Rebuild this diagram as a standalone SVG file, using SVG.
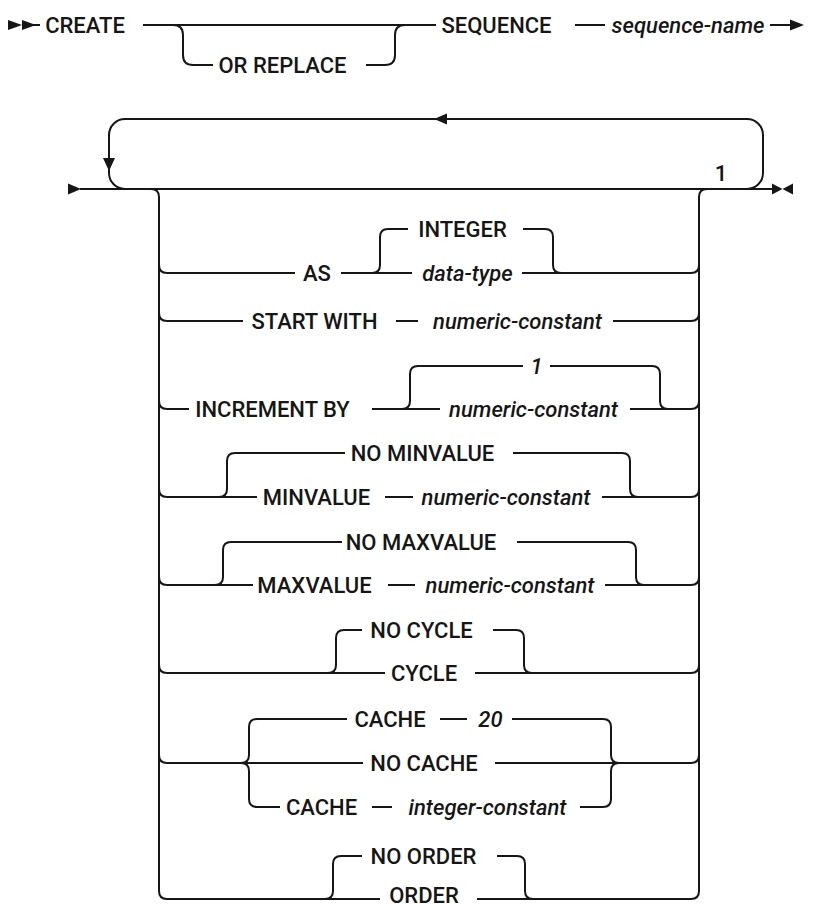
<svg xmlns="http://www.w3.org/2000/svg" width="814" height="904" viewBox="0 0 814 904">
<style>
.t{font-family:Roboto,"Liberation Sans",sans-serif;font-size:22px;font-weight:500;fill:#161616;text-anchor:middle}
.i{font-style:italic}
.c{fill:none;stroke:#161616;stroke-width:2}
.a{fill:#161616}
</style>
<rect width="814" height="904" fill="#fff"/>
<g id="connectors">
<path class="c" d="M30 25H40M143 25H436M173 25Q183 25 183 35V55Q183 65 193 65H213M366 65H385Q395 65 395 55V35Q395 25 405 25M575 25H605M770 25H795"/>
<path class="c" d="M80 189H772"/>
<path class="c" d="M747 189A16 16 0 0 0 763 173V135A16 16 0 0 0 747 119H125A16 16 0 0 0 109 135V173A16 16 0 0 0 125 189"/>
<path class="c" d="M151 189Q159 189 159 197V891Q159 899 167 899M691 899Q699 899 699 891V197Q699 189 707 189"/>
<path class="c" d="M159 265Q159 273 167 273H295M341 273H412M372 273Q380 273 380 265V237Q380 229 388 229H408M523 229H545Q553 229 553 237V265Q553 273 561 273M522 273H691Q699 273 699 265"/>
<path class="c" d="M159 313Q159 321 167 321H243M396 321H418M613 321H691Q699 321 699 313"/>
<path class="c" d="M159 401Q159 409 167 409H189M372 409H440M402 409Q410 409 410 401V374Q410 366 418 366H523M550 366H652Q660 366 660 374V401Q660 409 668 409M630 409H691Q699 409 699 401"/>
<path class="c" d="M159 489Q159 497 167 497H257M219 497Q227 497 227 489V461Q227 453 235 453H345M513 453H622Q630 453 630 461V489Q630 497 638 497M385 497H413M602 497H691Q699 497 699 489"/>
<path class="c" d="M159 577Q159 585 167 585H253M215 585Q223 585 223 577V550Q223 542 231 542H342M517 542H628Q636 542 636 550V577Q636 585 644 585M388 585H415M605 585H691Q699 585 699 577"/>
<path class="c" d="M159 665Q159 673 167 673H385M328 673Q336 673 336 665V638Q336 630 344 630H362M493 630H516Q524 630 524 638V665Q524 673 532 673M475 673H691Q699 673 699 665"/>
<path class="c" d="M159 755Q159 763 167 763H363M241 763Q249 763 249 755V727Q249 719 257 719H347M241 763Q249 763 249 771V799Q249 807 257 807H280M440 719H467M512 719H603Q611 719 611 727V755Q611 763 619 763M372 807H392M580 807H603Q611 807 611 799V771Q611 763 619 763M495 763H691Q699 763 699 755"/>
<path class="c" d="M167 899H380M325 899Q333 899 333 891V864Q333 856 341 856H362M497 856H517Q525 856 525 864V891Q525 899 533 899M477 899H691"/>
<polygon class="a" points="8,20 22,25 8,30"/>
<polygon class="a" points="22,20 36,25 22,30"/>
<polygon class="a" points="790,19.5 804,25 790,30.5"/>
<polygon class="a" points="68,183.5 81,189 68,194.5"/>
<polygon class="a" points="772,183.5 782.5,189 772,194.5"/>
<polygon class="a" points="793,183.5 782.5,189 793,194.5"/>
<polygon class="a" points="434,119 447,113.5 447,124.5"/>
<polygon class="a" points="103,158 115,158 109,171"/>
</g>
<g id="n-create"><text class="t" x="85" y="32.5">CREATE</text></g>
<g id="n-orreplace"><text class="t" x="282.5" y="72.5">OR REPLACE</text></g>
<g id="n-sequence"><text class="t" x="496.5" y="32.5">SEQUENCE</text></g>
<g id="n-seqname"><text class="t i" x="688" y="32.5">sequence-name</text></g>
<g id="n-note1"><text class="t" x="721" y="180.5">1</text></g>
<g id="n-integer"><text class="t" x="462.5" y="236.5">INTEGER</text></g>
<g id="n-as"><text class="t" x="317" y="280.5">AS</text></g>
<g id="n-datatype"><text class="t i" x="467.5" y="280.5">data-type</text></g>
<g id="n-startwith"><text class="t" x="314.5" y="328.5">START WITH</text></g>
<g id="n-startnum"><text class="t i" x="517.5" y="328.5">numeric-constant</text></g>
<g id="n-inc1"><text class="t i" x="536.5" y="373.5">1</text></g>
<g id="n-incby"><text class="t" x="272.5" y="416.5">INCREMENT BY</text></g>
<g id="n-incnum"><text class="t i" x="533.5" y="416.5">numeric-constant</text></g>
<g id="n-nominvalue"><text class="t" x="422.5" y="460.5">NO MINVALUE</text></g>
<g id="n-minvalue"><text class="t" x="316.5" y="504.5">MINVALUE</text></g>
<g id="n-minnum"><text class="t i" x="506" y="504.5">numeric-constant</text></g>
<g id="n-nomaxvalue"><text class="t" x="421" y="549.5">NO MAXVALUE</text></g>
<g id="n-maxvalue"><text class="t" x="314.5" y="592.5">MAXVALUE</text></g>
<g id="n-maxnum"><text class="t i" x="510" y="592.5">numeric-constant</text></g>
<g id="n-nocycle"><text class="t" x="421.5" y="637.5">NO CYCLE</text></g>
<g id="n-cycle"><text class="t" x="424" y="680.5">CYCLE</text></g>
<g id="n-cache20"><text class="t" x="390" y="726.5">CACHE</text><text class="t i" x="490.5" y="726.5">20</text></g>
<g id="n-nocache"><text class="t" x="424" y="770.5">NO CACHE</text></g>
<g id="n-cacheint"><text class="t" x="321.5" y="814.5">CACHE</text><text class="t i" x="487.5" y="814.5">integer-constant</text></g>
<g id="n-noorder"><text class="t" x="423.5" y="863.5">NO ORDER</text></g>
<g id="n-order"><text class="t" x="424" y="903">ORDER</text></g>
</svg>
